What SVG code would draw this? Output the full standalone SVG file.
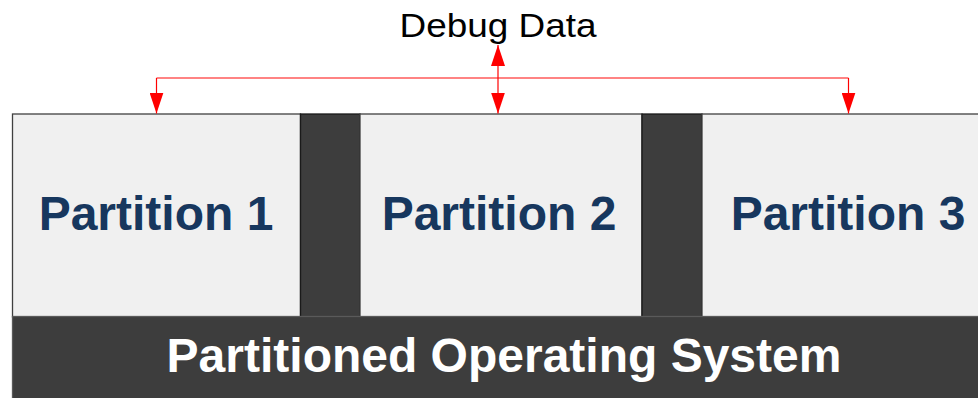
<svg xmlns="http://www.w3.org/2000/svg" width="978" height="398" viewBox="0 0 978 398">
  <style>
    .part { fill: #f0f0f0; stroke: #404040; stroke-width: 1.3; }
    .sep { fill: #3d3d3d; stroke: #1a1a1a; stroke-width: 1.3; }
    .os { fill: #3d3d3d; stroke: #5a5a5a; stroke-width: 1.3; }
    .plabel { font-family: "Liberation Sans", Arial, sans-serif; font-weight: bold; font-size: 48px; fill: #17375e; text-anchor: middle; }
    .oslabel { font-family: "Liberation Sans", Arial, sans-serif; font-weight: bold; font-size: 48px; fill: #ffffff; text-anchor: middle; }
    .title { font-family: "Liberation Sans", Arial, sans-serif; font-size: 34px; fill: #000000; text-anchor: middle; }
    .conn { fill: none; stroke: #ff0000; stroke-width: 1.2; }
    .hline { fill: none; stroke: #ff5a5a; stroke-width: 1.3; }
  </style>
  <defs>
    <marker id="ah" viewBox="0 0 14 21" refX="14" refY="7" markerWidth="21" markerHeight="14" markerUnits="userSpaceOnUse" orient="auto">
      <path d="M0,0 L21,7 L0,14 Z" fill="#ff0000"/>
    </marker>
    <marker id="arr" viewBox="0 0 21 14" refX="21" refY="7" markerWidth="21" markerHeight="14" markerUnits="userSpaceOnUse" orient="auto">
      <path d="M0,0 L21,7 L0,14 Z" fill="#ff0000"/>
    </marker>
  </defs>

  <g id="partition1">
    <rect class="part" x="12.5" y="114" width="288" height="203"/>
    <text class="plabel" x="156" y="230">Partition 1</text>
  </g>
  <g id="separator1">
    <rect class="sep" x="300.5" y="114" width="59.5" height="203"/>
  </g>
  <g id="partition2">
    <rect class="part" x="360" y="114" width="282" height="203"/>
    <text class="plabel" x="499" y="230">Partition 2</text>
  </g>
  <g id="separator2">
    <rect class="sep" x="642" y="114" width="60" height="203"/>
  </g>
  <g id="partition3">
    <rect class="part" x="702" y="114" width="290" height="203"/>
    <text class="plabel" x="848" y="230">Partition 3</text>
  </g>
  <g id="os">
    <rect class="os" x="12.5" y="316.5" width="980" height="90"/>
    <text class="oslabel" x="504" y="372">Partitioned Operating System</text>
  </g>
  <g id="debug">
    <text class="title" x="498" y="37" textLength="197" lengthAdjust="spacingAndGlyphs">Debug Data</text>
  </g>

  <g id="connectors">
    <path class="hline" d="M156.5,78 H848.5"/>
    <path class="conn" d="M156.5,78 V113.5" marker-end="url(#arr)"/>
    <path class="conn" d="M848.5,78 V113.5" marker-end="url(#arr)"/>
    <path class="conn" d="M498,78 V113.5" marker-end="url(#arr)"/>
    <path class="conn" d="M498,78 V45" marker-end="url(#arr)"/>
  </g>
</svg>
